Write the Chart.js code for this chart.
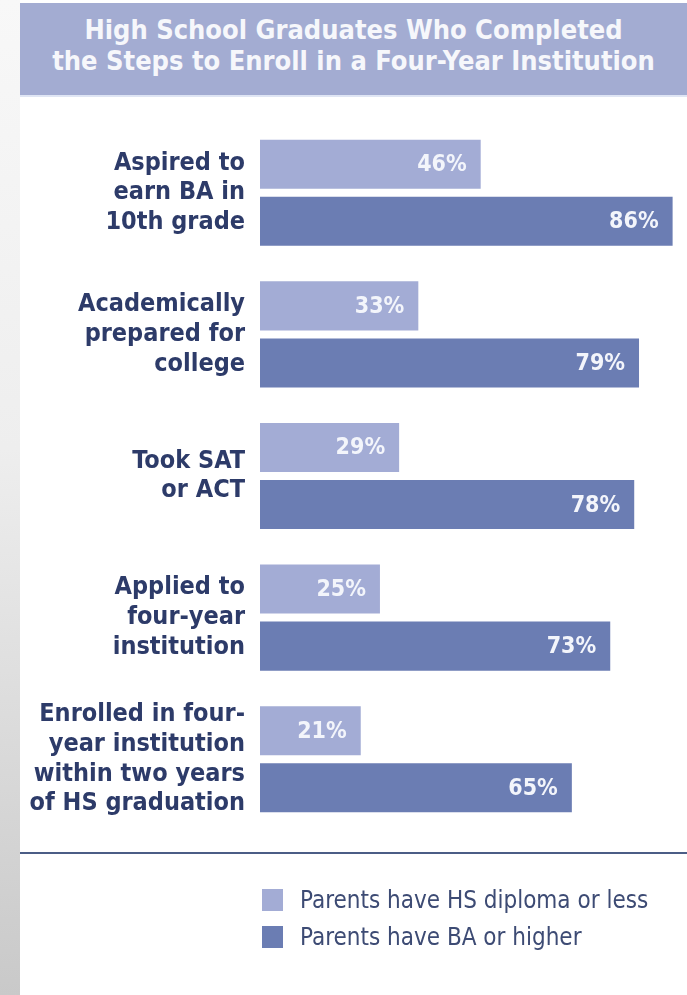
<!DOCTYPE html>
<html>
<head>
<meta charset="utf-8">
<script src="https://cdn.jsdelivr.net/npm/chart.js@4.4.1/dist/chart.umd.min.js"></script>
<style>
  html, body { margin: 0; padding: 0; background: #fff; }
  body { width: 687px; height: 995px; position: relative; overflow: hidden;
         font-family: 'Liberation Sans Narrow', 'DejaVu Sans Condensed', sans-serif; }
  #strip { position: absolute; left: 0; top: 0; width: 20px; height: 995px;
           background: linear-gradient(#f8f8f8 0%, #eeeeee 45%, #c9c9c9 100%); }
  #band { position: absolute; left: 20px; top: 3px; width: 667px; height: 94px;
          background: #a3acd2; border-bottom: 2px solid #dfe5f4; color: #f6f7fb;
          font-weight: bold; font-size: 27px; line-height: 31px; text-align: center;
          box-sizing: border-box; padding-top: 11px; }
  #rule { position: absolute; left: 20px; top: 852px; width: 667px; height: 2px; background: #4b5d86; }
  #wrap { position: absolute; left: 0; top: 0; width: 687px; height: 995px; }
  #legend { position: absolute; left: 262px; top: 888px; color: #3d4b74; font-size: 24px; }
  #legend div { height: 37px; line-height: 24px; white-space: nowrap; }
  #legend span { display: inline-block; width: 21px; height: 22px; vertical-align: -3px; margin-right: 17px; }
</style>
</head>
<body>
<div id="strip"></div>
<div id="band">High School Graduates Who Completed<br>the Steps to Enroll in a Four-Year Institution</div>
<div id="rule"></div>
<div id="wrap"><canvas id="myChart" width="687" height="995"></canvas></div>
<div id="legend"></div>
<script>
var steps = [
  ['Aspired to', 'earn BA in', '10th grade'],
  ['Academically', 'prepared for', 'college'],
  ['Took SAT', 'or ACT'],
  ['Applied to', 'four-year', 'institution'],
  ['Enrolled in four-', 'year institution', 'within two years', 'of HS graduation']
];
var hsOrLess = [46, 33, 29, 25, 21];
var baOrHigher = [86, 79, 78, 73, 65];
var seriesNames = ['Parents have HS diploma or less', 'Parents have BA or higher'];
var seriesColors = ['#a3acd5', '#6b7db3'];

var fam = "'Liberation Sans Narrow', 'DejaVu Sans Condensed', sans-serif";

var barLabels = {
  id: 'barLabels',
  afterDatasetsDraw: function (chart) {
    var ctx = chart.ctx;
    ctx.save();
    ctx.font = 'bold 23px ' + fam;
    ctx.fillStyle = '#f3f5fb';
    ctx.textAlign = 'right';
    ctx.textBaseline = 'middle';
    chart.data.datasets.forEach(function (ds, i) {
      chart.getDatasetMeta(i).data.forEach(function (bar, j) {
        ctx.fillText(ds.data[j] + '%', bar.x - 14, bar.y + 1);
      });
    });
    ctx.restore();
  }
};

var ctx = document.getElementById('myChart').getContext('2d');
var chart = new Chart(ctx, {
  type: 'bar',
  data: {
    labels: steps,
    datasets: [
      {label: seriesNames[0], data: hsOrLess, backgroundColor: seriesColors[0]},
      {label: seriesNames[1], data: baOrHigher, backgroundColor: seriesColors[1]}
    ]
  },
  options: {
    indexAxis: 'y',
    responsive: false,
    animation: false,
    categoryPercentage: 0.806,
    barPercentage: 0.86,
    layout: {padding: {top: 122, bottom: 165, left: 0, right: 0}},
    plugins: {legend: {display: false}, tooltip: {enabled: false}},
    scales: {
      x: {display: false, min: 0, max: 89},
      y: {
        grid: {display: false, drawTicks: false},
        border: {display: false},
        afterFit: function (s) { s.width = 260; },
        ticks: {
          padding: 15,
          color: '#2d3b69',
          font: {family: fam, size: 25, weight: 'bold', lineHeight: 1.19}
        }
      }
    }
  },
  plugins: [barLabels]
});

var leg = document.getElementById('legend');
chart.data.datasets.forEach(function (ds) {
  var row = document.createElement('div');
  var sw = document.createElement('span');
  sw.style.background = ds.backgroundColor;
  row.appendChild(sw);
  row.appendChild(document.createTextNode(ds.label));
  leg.appendChild(row);
});
</script>
</body>
</html>
